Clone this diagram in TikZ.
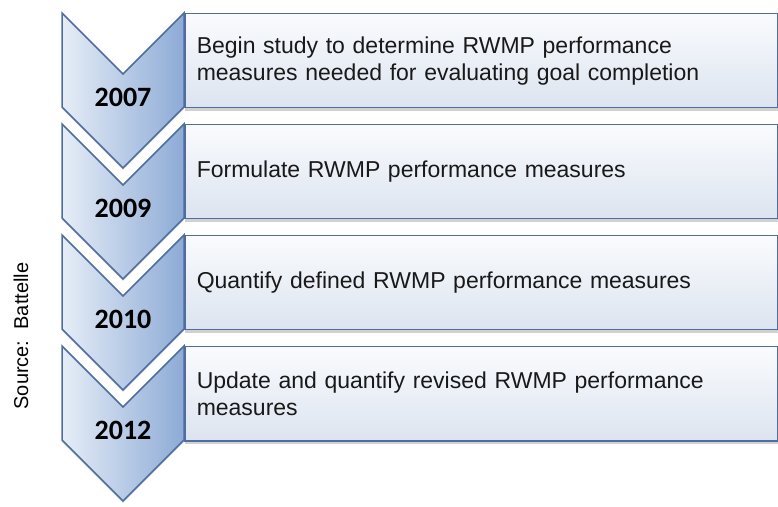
\documentclass[tikz,border=0pt]{standalone}
\usepackage{fontspec}
\setmainfont{Liberation Sans}
\newfontfamily\yearfont{Carlito}
\usetikzlibrary{shadows}

\definecolor{chevline}{HTML}{4F6E9F}
\definecolor{chevlight}{HTML}{E6EDF7}
\definecolor{chevdark}{HTML}{8DABD6}
\definecolor{boxtop}{HTML}{FAFBFD}
\definecolor{boxbottom}{HTML}{DCE4F0}

\begin{document}
\begin{tikzpicture}[
    x=1pt, y=1pt,
    chevshape/.style={draw=chevline, line width=1.5pt, left color=chevlight, right color=chevdark,
        drop shadow={shadow xshift=0pt, shadow yshift=-2pt, opacity=0.2, fill=black!50}},
    chevron/.pic={
        \path[chevshape] (-61,0) -- (0,-61) -- (61,0) -- (61,-94) -- (0,-155) -- (-61,-94) -- cycle;
    },
    stepbox/.style={draw=chevline, line width=1.5pt, top color=boxtop, bottom color=boxbottom,
        anchor=north west, minimum width=593pt, minimum height=94pt, text width=569pt, inner xsep=12pt,
        align=left, text=black!90, font=\fontsize{23}{27}\selectfont,
        drop shadow={shadow xshift=0pt, shadow yshift=-3pt, opacity=0.3, fill=black!60}},
    year/.style={font=\yearfont\bfseries\fontsize{28}{28}\selectfont},
    source/.style={rotate=90, font=\fontsize{20}{20}\selectfont},
]
\useasboundingbox (0,0) rectangle (778,506);

% Task boxes
\node[stepbox] (task1) at (184,493) {Begin study to determine RWMP performance\\measures needed for evaluating goal completion};
\node[stepbox] (task2) at (184,382) {Formulate RWMP performance measures};
\node[stepbox] (task3) at (184,271) {Quantify defined RWMP performance measures};
\node[stepbox] (task4) at (184,160) {Update and quantify revised RWMP performance\\measures};

% Year chevrons
\pic (chev1) at (123,493) {chevron};
\pic (chev2) at (123,382) {chevron};
\pic (chev3) at (123,271) {chevron};
\pic (chev4) at (123,160) {chevron};

\node[year] (y2007) at (123,409) {2007};
\node[year] (y2009) at (123,298) {2009};
\node[year] (y2010) at (123,187) {2010};
\node[year] (y2012) at (123,76) {2012};

% Source
\node[source] (src) at (21,170) {Source:\ \ Battelle};

\end{tikzpicture}
\end{document}
